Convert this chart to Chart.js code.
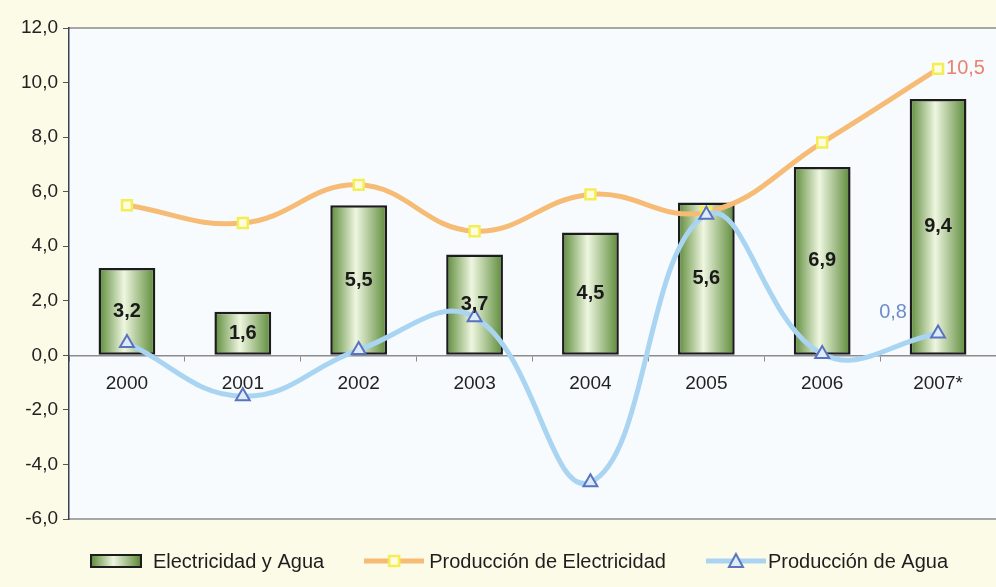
<!DOCTYPE html>
<html>
<head>
<meta charset="utf-8">
<script src="https://cdn.jsdelivr.net/npm/chart.js@4"></script>
<style>
  html, body { margin: 0; padding: 0; background: #fcfbe8; }
  #wrap { width: 996px; height: 587px; }
</style>
</head>
<body>
<div id="wrap"><canvas id="myChart" width="996" height="587"></canvas></div>
<script>
const years = ['2000', '2001', '2002', '2003', '2004', '2005', '2006', '2007*'];
const electricidadAgua = [3.2, 1.6, 5.5, 3.7, 4.5, 5.6, 6.9, 9.4];
const produccionElectricidad = [5.5, 4.85, 6.25, 4.55, 5.9, 5.25, 7.8, 10.5];
const produccionAgua = [0.45, -1.5, 0.2, 1.4, -4.65, 5.15, 0.05, 0.8];
const yMin = -6, yMax = 12, yStep = 2;

const FONT = '"Liberation Sans", Arial, sans-serif';
const ORANGE = '#f6bc76';
const BLUE = '#a9d5f3';
const BAR_PCT = 0.49;

function fmt(v) { return v.toFixed(1).replace('.', ','); }

function barGradient(ctx, x0, x1) {
  const g = ctx.createLinearGradient(x0, 0, x1, 0);
  g.addColorStop(0, '#5c8a38');
  g.addColorStop(0.45, '#eef6e0');
  g.addColorStop(1, '#5c8a38');
  return g;
}

// legend symbols on small canvases
function symbol(kind) {
  const c = document.createElement('canvas');
  const g = c.getContext('2d');
  if (kind === 'bar') {
    c.width = 52; c.height = 14;
    g.fillStyle = barGradient(g, 1, 51);
    g.fillRect(1, 1, 50, 12);
    g.strokeStyle = '#1c1c1c'; g.lineWidth = 2;
    g.strokeRect(1, 1, 50, 12);
  } else {
    c.width = 60; c.height = 18;
    g.strokeStyle = kind === 'elec' ? ORANGE : BLUE;
    g.lineWidth = 5;
    g.beginPath(); g.moveTo(0, 9); g.lineTo(60, 9); g.stroke();
    g.lineWidth = 2.5;
    if (kind === 'elec') {
      g.fillStyle = '#fdfbe0'; g.strokeStyle = '#f4ee55';
      g.fillRect(25, 4, 10, 10); g.strokeRect(25, 4, 10, 10);
    } else {
      g.fillStyle = '#dcedf9'; g.strokeStyle = '#5a72c0'; g.lineWidth = 2;
      g.beginPath(); g.moveTo(30, 2); g.lineTo(37, 15); g.lineTo(23, 15); g.closePath();
      g.fill(); g.stroke();
    }
  }
  return c;
}

const frame = {
  id: 'frame',
  beforeDraw(chart) {
    const { ctx, chartArea: a } = chart;
    ctx.save();
    ctx.fillStyle = '#fcfbe8';
    ctx.fillRect(0, 0, chart.width, chart.height);
    ctx.fillStyle = '#f8fbfd';
    ctx.fillRect(a.left, a.top, a.right - a.left, a.bottom - a.top);
    ctx.strokeStyle = '#8c8c8c';
    ctx.lineWidth = 1.5;
    ctx.beginPath();
    ctx.moveTo(a.left, a.top); ctx.lineTo(a.right, a.top);
    ctx.moveTo(a.left, a.bottom); ctx.lineTo(a.right, a.bottom);
    ctx.stroke();
    ctx.restore();
  },
  afterDatasetsDraw(chart) {
    const ctx = chart.ctx;
    ctx.save();
    ctx.textBaseline = 'middle';
    // values inside the bars
    const bars = chart.getDatasetMeta(0);
    ctx.font = 'bold 20px ' + FONT;
    ctx.fillStyle = '#1a1a1a';
    ctx.textAlign = 'center';
    bars.data.forEach((el, i) => {
      ctx.fillText(fmt(electricidadAgua[i]), el.x, (el.y + el.base) / 2);
    });
    // last value of each line
    ctx.font = '20px ' + FONT;
    const last = years.length - 1;
    const pe = chart.getDatasetMeta(1).data[last];
    ctx.fillStyle = '#e8836d';
    ctx.textAlign = 'left';
    ctx.fillText(fmt(produccionElectricidad[last]), pe.x + 8, pe.y);
    const pa = chart.getDatasetMeta(2).data[last];
    ctx.fillStyle = '#6d8ccb';
    ctx.textAlign = 'center';
    ctx.fillText(fmt(produccionAgua[last]), pa.x - 45, pa.y - 21);
    ctx.restore();
  },
  afterDraw(chart) {
    const ctx = chart.ctx;
    const items = [
      { img: symbol('bar'), text: 'Electricidad y Agua', gap: 11 },
      { img: symbol('elec'), text: 'Producción de Electricidad', gap: 5 },
      { img: symbol('agua'), text: 'Producción de Agua', gap: 2 }
    ];
    ctx.save();
    ctx.font = '20px ' + FONT;
    ctx.fillStyle = '#1e1e1e';
    ctx.textBaseline = 'middle';
    ctx.textAlign = 'left';
    const space = 40;
    let total = 0;
    items.forEach((it, i) => {
      it.w = it.img.width + it.gap + ctx.measureText(it.text).width;
      total += it.w + (i ? space : 0);
    });
    let x = 519 - total / 2;
    const y = 561;
    items.forEach(it => {
      ctx.drawImage(it.img, x, y - it.img.height / 2);
      ctx.fillText(it.text, x + it.img.width + it.gap, y + 1);
      x += it.w + space;
    });
    ctx.restore();
  }
};

const ctx = document.getElementById('myChart').getContext('2d');
const myChart = new Chart(ctx, {
  data: {
    labels: years,
    datasets: [
      {
        type: 'bar',
        label: 'Electricidad y Agua',
        data: electricidadAgua,
        order: 2,
        barPercentage: BAR_PCT,
        categoryPercentage: 1,
        borderColor: '#1c1c1c',
        borderWidth: 2.5,
        borderSkipped: false,
        backgroundColor: (c) => {
          const chart = c.chart;
          const a = chart.chartArea;
          if (!a || c.dataIndex === undefined) return '#9cc07a';
          const x = chart.scales.x.getPixelForValue(c.dataIndex);
          const half = (a.right - a.left) / years.length * BAR_PCT / 2;
          return barGradient(chart.ctx, x - half, x + half);
        }
      },
      {
        type: 'line',
        label: 'Producción de Electricidad',
        data: produccionElectricidad,
        order: 1,
        borderColor: ORANGE,
        borderWidth: 5,
        tension: 0.42,
        pointStyle: 'rect',
        pointRadius: 7,
        pointBorderWidth: 2.5,
        pointBorderColor: '#f4ee55',
        pointBackgroundColor: '#fdfbe0'
      },
      {
        type: 'line',
        label: 'Producción de Agua',
        data: produccionAgua,
        order: 0,
        borderColor: BLUE,
        borderWidth: 5,
        tension: 0.42,
        pointStyle: 'triangle',
        pointRadius: 8,
        pointBorderWidth: 2,
        pointBorderColor: '#5a72c0',
        pointBackgroundColor: '#dcedf9'
      }
    ]
  },
  options: {
    responsive: false,
    animation: false,
    layout: { autoPadding: false, padding: { top: 28, right: 0, bottom: 68, left: 0 } },
    plugins: {
      legend: { display: false },
      tooltip: { enabled: false }
    },
    scales: {
      x: {
        type: 'category',
        position: { y: 0 },
        offset: true,
        grid: { drawOnChartArea: false, drawTicks: true, tickLength: 5, color: '#8c8c8c', offset: true },
        border: { color: '#8c8c8c', width: 1.5 },
        ticks: { font: { family: FONT, size: 19 }, color: '#222', padding: 12, maxRotation: 0 }
      },
      y: {
        min: yMin,
        max: yMax,
        afterFit: (s) => { s.width = 69; },
        grid: { drawOnChartArea: false, drawTicks: true, tickLength: 6, color: '#555' },
        border: { color: '#3b405a', width: 1.5 },
        ticks: {
          stepSize: yStep,
          padding: 5,
          color: '#222',
          font: { family: FONT, size: 19 },
          callback: (v) => fmt(v)
        }
      }
    }
  },
  plugins: [frame]
});
</script>
</body>
</html>
